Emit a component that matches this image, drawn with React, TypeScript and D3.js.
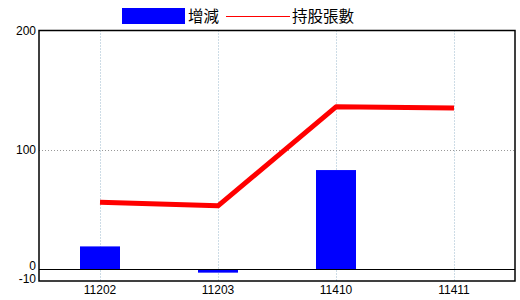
import React from "react";
import * as d3 from "d3";

const categories = ["11202", "11203", "11410", "11411"];
const changeValues = [19, -3, 83, 0];
const holdingValues = [56, 53, 136, 135];
const yTicks = [-10, 0, 100, 200];
const legendLabels = ["增減", "持股張數"];

const W = 520;
const H = 300;
const M = { left: 39, right: 5, top: 30.5, bottom: 19 };

export default function App() {
  const x = d3
    .scaleBand<string>()
    .domain(categories)
    .range([M.left + 2, W - M.right - 2])
    .padding(0);
  const y = d3
    .scaleLinear()
    .domain([-10, 200])
    .range([H - M.bottom, M.top]);

  const bw = x.bandwidth();
  const barW = 40;
  const cx = (c: string) => (x(c) as number) + bw / 2;

  const line = d3
    .line<number>()
    .x((_, i) => cx(categories[i]))
    .y((d) => y(d));

  const font = "'Liberation Sans', Arial, sans-serif";
  const cjk = "'Noto Sans CJK TC', sans-serif";

  return (
    <svg
      width={W}
      height={H}
      style={{ position: "absolute", left: 0, top: 0, background: "#fff" }}
    >
      {categories.map((c) => (
        <line
          key={"gx" + c}
          x1={Math.round(cx(c)) + 0.5}
          x2={Math.round(cx(c)) + 0.5}
          y1={M.top}
          y2={H - M.bottom}
          stroke="#9bb8cc"
          strokeDasharray="1,2"
        />
      ))}
      {yTicks
        .filter((t) => t === 100)
        .map((t) => (
          <line
            key={"gy" + t}
            x1={M.left}
            x2={W - M.right}
            y1={Math.round(y(t)) + 0.5}
            y2={Math.round(y(t)) + 0.5}
            stroke="#999"
            strokeDasharray="1,2"
          />
        ))}
      {categories.map((c, i) => {
        const v = changeValues[i];
        if (v === 0) return null;
        const y0 = y(0);
        const y1 = y(v);
        return (
          <rect
            key={"b" + c}
            x={cx(c) - barW / 2}
            width={barW}
            y={Math.min(y0, y1)}
            height={Math.abs(y1 - y0)}
            fill="#0000ff"
          />
        );
      })}
      <line
        x1={M.left}
        x2={W - M.right}
        y1={Math.round(y(0)) + 0.5}
        y2={Math.round(y(0)) + 0.5}
        stroke="#000"
      />
      <path
        d={line(holdingValues) || ""}
        fill="none"
        stroke="#ff0000"
        strokeWidth={5}
        strokeLinejoin="round"
      />
      <rect
        x={M.left}
        y={M.top}
        width={W - M.right - M.left}
        height={H - M.bottom - M.top}
        fill="none"
        stroke="#000"
        strokeWidth={1.5}
      />
      {yTicks.map((t) => (
        <text
          key={"ty" + t}
          x={M.left - 3}
          y={y(t)}
          dy={t === -10 ? "0.15em" : t === 0 ? "0.1em" : "0.35em"}
          textAnchor="end"
          fontFamily={font}
          fontSize={12}
          fill="#000"
        >
          {t}
        </text>
      ))}
      {categories.map((c) => (
        <text
          key={"tx" + c}
          x={cx(c)}
          y={H - M.bottom + 13}
          textAnchor="middle"
          fontFamily={font}
          fontSize={12}
          fill="#000"
        >
          {c}
        </text>
      ))}
      <rect x={122} y={8} width={63} height={16} fill="#0000ff" />
      <text x={188} y={22} fontFamily={cjk} fontSize={15.5} fill="#000">
        {legendLabels[0]}
      </text>
      <line x1={226} x2={290} y1={16.5} y2={16.5} stroke="#ff0000" strokeWidth={1} />
      <text x={292} y={22} fontFamily={cjk} fontSize={15.5} fill="#000">
        {legendLabels[1]}
      </text>
    </svg>
  );
}
